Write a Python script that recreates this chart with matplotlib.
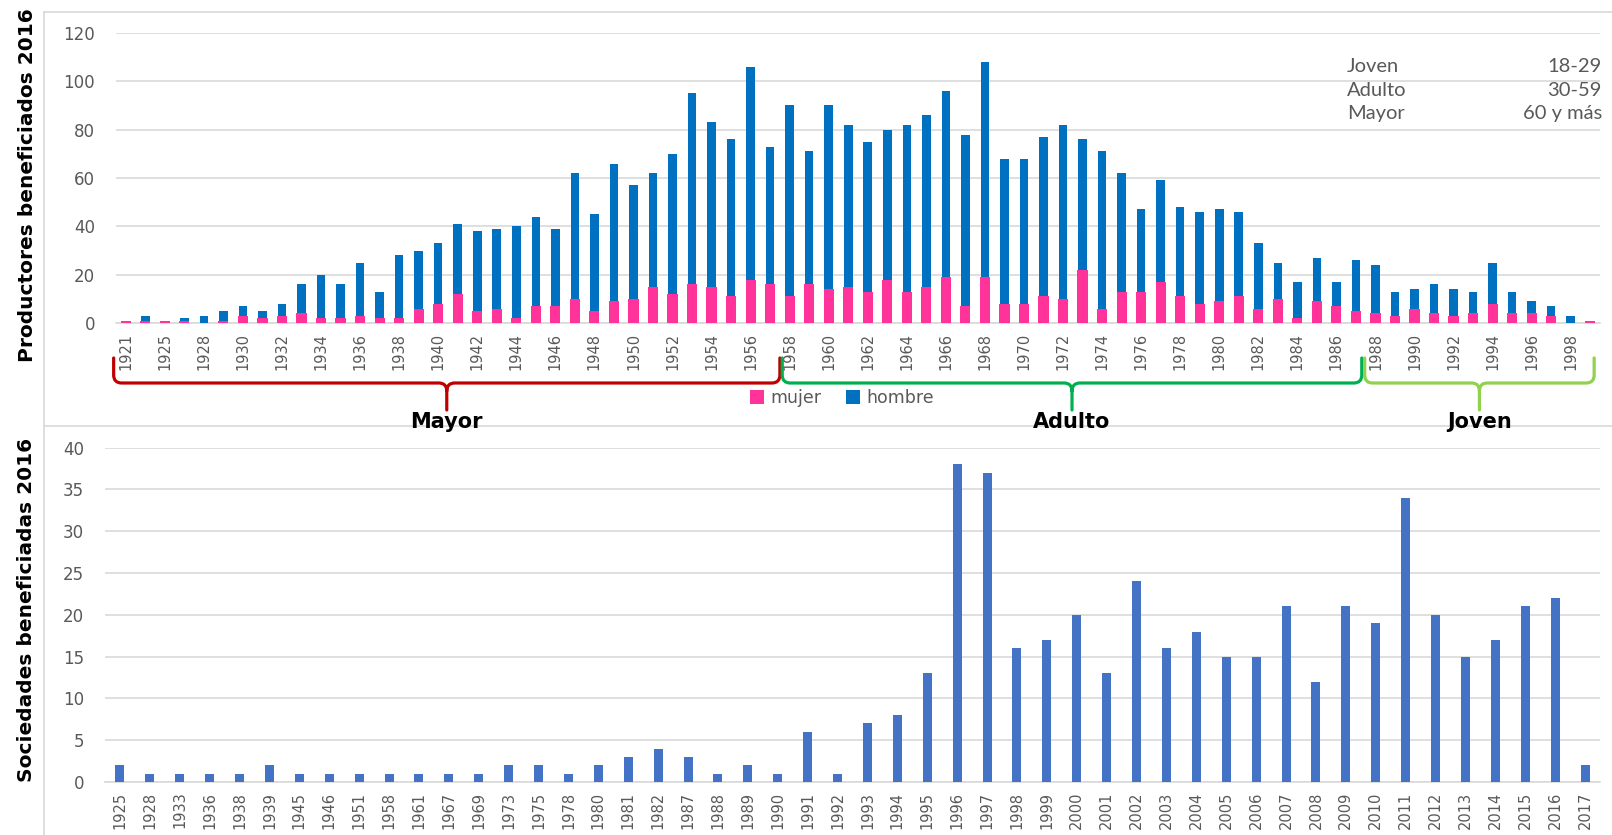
import matplotlib
matplotlib.use("Agg")
import matplotlib.pyplot as plt
from matplotlib.path import Path
from matplotlib.patches import PathPatch, Patch
from matplotlib.lines import Line2D
from matplotlib.transforms import blended_transform_factory
from matplotlib import font_manager

# ---------------- data ----------------
top_years = [1921, 1923, 1925, 1927] + list(range(1928, 2000))
mujer = [1, 1, 1, 1,
         0, 1, 3, 2, 3, 4, 2, 2, 3, 2,        # 1928-1937
         2, 6, 8, 12, 5, 6, 2, 7, 7, 10,      # 1938-1947
         5, 9, 10, 15, 12, 16, 15, 11, 18, 16,  # 1948-1957
         11, 16, 14, 15, 13, 18, 13, 15, 19, 7,  # 1958-1967
         19, 8, 8, 11, 10, 22, 6, 13, 13, 17,   # 1968-1977
         11, 8, 9, 11, 6, 10, 2, 9, 7, 5,       # 1978-1987
         4, 3, 6, 4, 3, 4, 8, 4, 4, 3,          # 1988-1997
         0, 1]                                  # 1998-1999
hombre = [0, 2, 0, 1,
          3, 4, 4, 3, 5, 12, 18, 14, 22, 11,     # 1928-1937
          26, 24, 25, 29, 33, 33, 38, 37, 32, 52,  # 1938-1947
          40, 57, 47, 47, 58, 79, 68, 65, 88, 57,  # 1948-1957
          79, 55, 76, 67, 62, 62, 69, 71, 77, 71,  # 1958-1967
          89, 60, 60, 66, 72, 54, 65, 49, 34, 42,  # 1968-1977
          37, 38, 38, 35, 27, 15, 15, 18, 10, 21,  # 1978-1987
          20, 10, 8, 12, 11, 9, 17, 9, 5, 4,       # 1988-1997
          3, 0]                                    # 1998-1999

bottom_years = [1925, 1928, 1933, 1936, 1938, 1939, 1945, 1946, 1951, 1958,
                1961, 1967, 1969, 1973, 1975, 1978, 1980, 1981, 1982, 1987,
                1988, 1989, 1990, 1991, 1992, 1993, 1994, 1995, 1996, 1997,
                1998, 1999, 2000, 2001, 2002, 2003, 2004, 2005, 2006, 2007,
                2008, 2009, 2010, 2011, 2012, 2013, 2014, 2015, 2016, 2017]
sociedades = [2, 1, 1, 1, 1, 2, 1, 1, 1, 1,
              1, 1, 1, 2, 2, 1, 2, 3, 4, 3,
              1, 2, 1, 6, 1, 7, 8, 13, 38, 37,
              16, 17, 20, 13, 24, 16, 18, 15, 15, 21,
              12, 21, 19, 34, 20, 15, 17, 21, 22, 2]

age_groups = ["Mayor", "Adulto", "Joven"]
age_ranges = ["60 y más", "30-59", "18-29"]
legend_labels = ["mujer", "hombre"]

# ---------------- style ----------------
C_PINK = "#FF3399"
C_BLUE = "#0070C0"
C_BAR2 = "#4472C4"
C_GRID = "#D9D9D9"
C_TXT = "#595959"
brace_colors = ["#C00000", "#00B050", "#92D050"]
brace_spans = [(-0.62, 33.5), (33.62, 63.3), (63.45, 75.2)]

names = {f.name for f in font_manager.fontManager.ttflist}
if "Liberation Sans Narrow" in names:
    xfont, xsize = "Liberation Sans Narrow", 13
else:
    xfont, xsize = "DejaVu Sans", 10.5

W, H = 1612, 835
fig = plt.figure(figsize=(W / 100, H / 100), dpi=100)

def fx(px):
    return px / W

def fy(py):
    return 1 - py / H

ax1 = fig.add_axes([fx(116), fy(323), fx(1600) - fx(116), fy(33) - fy(323)])
ax2 = fig.add_axes([fx(105), fy(782), fx(1600) - fx(105), fy(447.7) - fy(782)])

# ---------- top chart ----------
x1 = list(range(len(top_years)))
ax1.bar(x1, mujer, width=0.52, color=C_PINK, zorder=3)
ax1.bar(x1, hombre, bottom=mujer, width=0.44, color=C_BLUE, zorder=3)
ax1.set_xlim(-0.5, len(top_years) - 0.5)
ax1.set_ylim(0, 120)
ax1.set_yticks(range(0, 121, 20))
ax1.set_xticks(x1[::2])
ax1.set_xticklabels([str(y) for y in top_years[::2]], rotation=90,
                    fontfamily=xfont, fontsize=xsize, color=C_TXT)

# ---------- bottom chart ----------
x2 = list(range(len(bottom_years)))
ax2.bar(x2, sociedades, width=0.3, color=C_BAR2, zorder=3)
ax2.set_xlim(-0.5, len(bottom_years) - 0.5)
ax2.set_ylim(0, 40)
ax2.set_yticks(range(0, 41, 5))
ax2.set_xticks(x2)
ax2.set_xticklabels([str(y) for y in bottom_years], rotation=90,
                    fontfamily=xfont, fontsize=xsize, color=C_TXT)

for ax in (ax1, ax2):
    for s in ("top", "right", "left"):
        ax.spines[s].set_visible(False)
    ax.spines["bottom"].set_color(C_GRID)
    ax.spines["bottom"].set_linewidth(1.2)
    ax.yaxis.grid(True, color=C_GRID, linewidth=1.2, zorder=0)
    ax.set_axisbelow(True)
    ax.tick_params(axis="both", length=0)
    ax.tick_params(axis="y", pad=15, labelsize=12, labelcolor=C_TXT)
    ax.tick_params(axis="x", pad=7)

fig.text(fx(28), fy(185), "Productores beneficiados 2016", rotation=90,
         ha="center", va="center", fontsize=14.5, fontweight="bold", color="black")
fig.text(fx(27), fy(610), "Sociedades beneficiadas 2016", rotation=90,
         ha="center", va="center", fontsize=14.5, fontweight="bold", color="black")

# ---------- braces ----------
tr = blended_transform_factory(ax1.transData, ax1.transAxes)
ph = 290.0
y_top = (323 - 358) / ph
y_h = (323 - 383) / ph
y_tip = (323 - 410) / ph
y_lab = (323 - 422) / ph
ry = 8 / ph
rx = 8 / 19.53

for (a, b), col, name in zip(brace_spans, brace_colors, age_groups):
    m = (a + b) / 2
    verts = [(a, y_top), (a, y_h + ry), (a, y_h), (a + rx, y_h),
             (m - rx, y_h), (m, y_h), (m, y_h - ry), (m, y_tip),
             (m, y_h - ry), (m, y_h), (m + rx, y_h),
             (b - rx, y_h), (b, y_h), (b, y_h + ry), (b, y_top)]
    codes = [Path.MOVETO, Path.LINETO, Path.CURVE3, Path.CURVE3,
             Path.LINETO, Path.CURVE3, Path.CURVE3, Path.LINETO,
             Path.MOVETO, Path.CURVE3, Path.CURVE3,
             Path.LINETO, Path.CURVE3, Path.CURVE3, Path.LINETO]
    patch = PathPatch(Path(verts, codes), transform=tr, fill=False,
                      edgecolor=col, linewidth=2.3, clip_on=False,
                      capstyle="round", joinstyle="round")
    ax1.add_patch(patch)
    ax1.text(m, y_lab, name, transform=tr, ha="center", va="center",
             fontsize=15, fontweight="bold", color="black", clip_on=False)

# ---------- legend ----------
handles = [Patch(facecolor=C_PINK), Patch(facecolor=C_BLUE)]
fig.legend(handles, legend_labels, loc="center",
           bbox_to_anchor=(fx(842), fy(398)), ncol=2, frameon=False,
           fontsize=12.5, labelcolor=C_TXT, handlelength=0.8, handleheight=0.8,
           handletextpad=0.4, columnspacing=1.4)

# ---------- age ranges box ----------
for name, rng, py in zip(age_groups[::-1], age_ranges[::-1], [66, 90, 114]):
    fig.text(fx(1347), fy(py), name, ha="left", va="center",
             fontsize=14.5, color=C_TXT, fontfamily="Lato")
    fig.text(fx(1602), fy(py), rng, ha="right", va="center",
             fontsize=14.5, color=C_TXT, fontfamily="Lato")

# ---------- chart borders ----------
for xs, ys in [((44, 44), (12, 835)), ((44, W), (12, 12)), ((44, W), (426, 426))]:
    fig.add_artist(Line2D([fx(v) for v in xs], [fy(v) for v in ys],
                          color=C_GRID, linewidth=1.2, zorder=-1))

fig.savefig("out.png", dpi=100, facecolor="white")
